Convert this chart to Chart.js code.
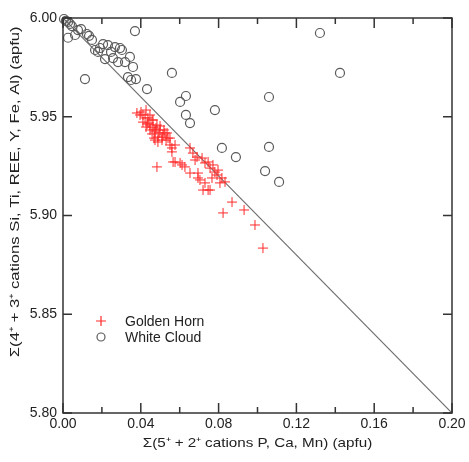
<!DOCTYPE html>
<html>
<head>
<meta charset="utf-8">
<script src="https://cdn.jsdelivr.net/npm/chart.js@4/dist/chart.umd.min.js"></script>
<style>
  html, body { margin: 0; padding: 0; background: #fff; }
  #wrap { width: 469px; height: 462px; }
</style>
</head>
<body>
<div id="wrap"><canvas id="myChart"></canvas></div>
<script>
// Golden Horn (red plus)
const goldenHornX = [0.0396, 0.0427, 0.0411, 0.0437, 0.0463, 0.0483, 0.0473, 0.0499, 0.0488, 0.0514,
  0.0535, 0.0509, 0.0550, 0.0576, 0.0560, 0.0483, 0.0576, 0.0612, 0.0653, 0.0668,
  0.0689, 0.0653, 0.0694, 0.0730, 0.0746, 0.0720, 0.0746, 0.0771, 0.0797, 0.0792,
  0.0817, 0.0833, 0.0807, 0.0869, 0.0931, 0.0823, 0.0987, 0.1028, 0.0380, 0.0411,
  0.0437, 0.0447, 0.0473, 0.0509, 0.0524, 0.0540, 0.0488, 0.0560, 0.0566, 0.0602,
  0.0715, 0.0730, 0.0627, 0.0694, 0.0704, 0.0756, 0.0458, 0.0447, 0.0427, 0.0468,
  0.0401, 0.0422, 0.0447, 0.0463, 0.0432, 0.0478, 0.0458, 0.0499, 0.0519, 0.0494,
  0.0530, 0.0550, 0.0473, 0.0679, 0.0756, 0.0781, 0.0766];
const goldenHornY = [5.9509, 5.9534, 5.9473, 5.9468, 5.9448, 5.9458, 5.9423, 5.9433, 5.9397, 5.9408,
  5.9418, 5.9382, 5.9392, 5.9357, 5.9322, 5.9246, 5.9271, 5.9256, 5.9342, 5.9316,
  5.9296, 5.9215, 5.9190, 5.9165, 5.9129, 5.9129, 5.9271, 5.9256, 5.9230, 5.9205,
  5.9190, 5.9170, 5.9165, 5.9068, 5.9028, 5.9013, 5.8952, 5.8835, 5.9519, 5.9509,
  5.9494, 5.9458, 5.9433, 5.9397, 5.9418, 5.9392, 5.9372, 5.9342, 5.9271, 5.9266,
  5.9291, 5.9266, 5.9246, 5.9215, 5.9180, 5.9129, 5.9483, 5.9433, 5.9448, 5.9392,
  5.9524, 5.9494, 5.9509, 5.9484, 5.9463, 5.9443, 5.9413, 5.9453, 5.9433, 5.9418,
  5.9382, 5.9357, 5.9382, 5.9281, 5.9240, 5.9220, 5.9190];

// White Cloud (open circles)
const whiteCloudX = [0.0005, 0.0015, 0.0026, 0.0036, 0.0026, 0.0062, 0.0093, 0.0123, 0.0134, 0.0206,
  0.0231, 0.0267, 0.0247, 0.0180, 0.0165, 0.0216, 0.0283, 0.0344, 0.0360, 0.0334,
  0.0375, 0.0350, 0.0113, 0.0432, 0.0370, 0.1321, 0.1424, 0.1059, 0.0781, 0.0817,
  0.0889, 0.1059, 0.1039, 0.1111, 0.0560, 0.0602, 0.0632, 0.0632, 0.0653, 0.0046,
  0.0077, 0.0149, 0.0190, 0.0293, 0.0257, 0.0319, 0.0303];
const whiteCloudY = [5.9995, 5.9985, 5.9980, 5.9970, 5.9900, 5.9914, 5.9944, 5.9919, 5.9910, 5.9868,
  5.9863, 5.9853, 5.9828, 5.9828, 5.9838, 5.9792, 5.9777, 5.9803, 5.9752, 5.9701,
  5.9691, 5.9686, 5.9691, 5.9640, 5.9934, 5.9924, 5.9722, 5.9600, 5.9534, 5.9342,
  5.9296, 5.9347, 5.9225, 5.9170, 5.9722, 5.9575, 5.9605, 5.9509, 5.9468, 5.9959,
  5.9939, 5.9889, 5.9848, 5.9848, 5.9797, 5.9777, 5.9838];

// 1:1 substitution line
const lineX = [0.00, 0.20];
const lineY = [6.00, 5.80];

const xMajorTicks = [0.00, 0.04, 0.08, 0.12, 0.16, 0.20];
const xMinorTicks = [0.02, 0.06, 0.10, 0.14, 0.18];
const yTicks = [5.80, 5.85, 5.90, 5.95, 6.00];

const xTitle = 'Σ(5⁺ + 2⁺ cations P, Ca, Mn) (apfu)';
const yTitle = 'Σ(4⁺ + 3⁺ cations Si, Ti, REE, Y, Fe, Al) (apfu)';

const toPoints = (xs, ys) => xs.map((x, i) => ({ x: x, y: ys[i] }));

const FONT = '"Liberation Sans", Arial, Helvetica, sans-serif';
const AXIS_COLOR = '#333';

// frame, inward ticks, axis titles and inset legend
const framePlugin = {
  id: 'frame',
  afterDraw(chart) {
    const { ctx, chartArea: a, scales: { x, y } } = chart;
    ctx.save();
    ctx.strokeStyle = AXIS_COLOR;
    ctx.lineWidth = 1.5;
    ctx.strokeRect(a.left, a.top, a.right - a.left, a.bottom - a.top);
    ctx.beginPath();
    xMajorTicks.forEach(v => {
      const px = x.getPixelForValue(v);
      ctx.moveTo(px, a.bottom); ctx.lineTo(px, a.bottom - 10);
      ctx.moveTo(px, a.top); ctx.lineTo(px, a.top + 10);
    });
    xMinorTicks.forEach(v => {
      const px = x.getPixelForValue(v);
      ctx.moveTo(px, a.bottom); ctx.lineTo(px, a.bottom - 6);
      ctx.moveTo(px, a.top); ctx.lineTo(px, a.top + 6);
    });
    yTicks.forEach(v => {
      const py = y.getPixelForValue(v);
      ctx.moveTo(a.left, py); ctx.lineTo(a.left + 9, py);
      ctx.moveTo(a.right, py); ctx.lineTo(a.right - 9, py);
    });
    ctx.stroke();

    // axis titles (text is a bit stretched in the original figure)
    ctx.fillStyle = '#222';
    ctx.font = '13px ' + FONT;
    ctx.textAlign = 'center';
    ctx.textBaseline = 'middle';
    ctx.save();
    ctx.translate((a.left + a.right) / 2, 443);
    ctx.scale(1.17, 1);
    ctx.fillText(xTitle, 0, 0);
    ctx.restore();
    ctx.save();
    ctx.translate(15, a.top + (a.bottom - a.top) * 0.44);
    ctx.rotate(-Math.PI / 2);
    ctx.scale(1.28, 1);
    ctx.fillText(yTitle, 0, 0);
    ctx.restore();

    // legend
    const lx = a.left + 38, ly = a.bottom - 92;
    const gh = chart.data.datasets[0], wc = chart.data.datasets[1];
    ctx.lineWidth = 1.2;
    ctx.strokeStyle = gh.borderColor;
    ctx.beginPath();
    ctx.moveTo(lx - 5, ly); ctx.lineTo(lx + 5, ly);
    ctx.moveTo(lx, ly - 5); ctx.lineTo(lx, ly + 5);
    ctx.stroke();
    ctx.strokeStyle = wc.borderColor;
    ctx.beginPath();
    ctx.arc(lx, ly + 16, 4, 0, Math.PI * 2);
    ctx.stroke();
    ctx.textAlign = 'left';
    ctx.font = '14px ' + FONT;
    ctx.fillText(gh.label, lx + 24, ly + 1);
    ctx.fillText(wc.label, lx + 24, ly + 17);
    ctx.restore();
  }
};

new Chart(document.getElementById('myChart'), {
  type: 'scatter',
  data: {
    datasets: [{
      label: 'Golden Horn',
      data: toPoints(goldenHornX, goldenHornY),
      pointStyle: 'cross',
      pointRadius: 5,
      borderColor: '#ff2a2a',
      backgroundColor: '#ff2a2a',
      borderWidth: 1,
      clip: false
    },
    {
      label: 'White Cloud',
      data: toPoints(whiteCloudX, whiteCloudY),
      pointStyle: 'circle',
      pointRadius: 4.5,
      borderColor: '#5a5a5a',
      backgroundColor: 'rgba(0,0,0,0)',
      borderWidth: 1.2,
      clip: false
    },
    {
      type: 'line',
      label: 'line',
      data: toPoints(lineX, lineY),
      borderColor: '#6e6e6e',
      borderWidth: 1.2,
      pointRadius: 0,
      fill: false
    }]
  },
  options: {
    responsive: true,
    maintainAspectRatio: false,
    animation: false,
    layout: { padding: { top: 18, right: 17, left: 0, bottom: 0 } },
    plugins: {
      legend: { display: false },
      tooltip: { enabled: false }
    },
    scales: {
      x: {
        type: 'linear',
        min: 0,
        max: 0.2,
        afterFit: s => { s.height = 49; },
        afterBuildTicks: s => { s.ticks = xMajorTicks.map(v => ({ value: v })); },
        grid: { display: false, drawTicks: false },
        border: { display: false },
        ticks: {
          padding: 3,
          color: '#222',
          font: { family: FONT, size: 14 },
          callback: v => v.toFixed(2)
        },
        title: { display: false, text: xTitle }
      },
      y: {
        type: 'linear',
        min: 5.8,
        max: 6.0,
        afterFit: s => { s.width = 63; },
        afterBuildTicks: s => { s.ticks = yTicks.map(v => ({ value: v })); },
        grid: { display: false, drawTicks: false },
        border: { display: false },
        ticks: {
          padding: 6,
          color: '#222',
          font: { family: FONT, size: 14 },
          callback: v => v.toFixed(2)
        },
        title: { display: false, text: yTitle }
      }
    }
  },
  plugins: [framePlugin]
});
</script>
</body>
</html>
